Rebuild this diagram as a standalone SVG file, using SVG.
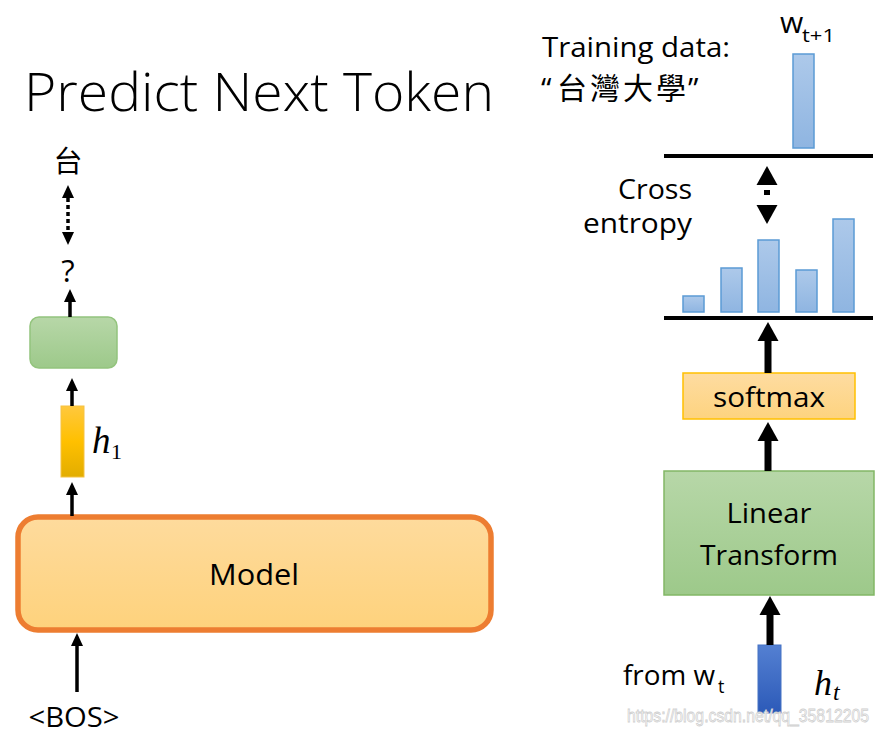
<svg xmlns="http://www.w3.org/2000/svg" width="879" height="734" viewBox="0 0 879 734">
<style>
.t{font-family:"Open Sans","Noto Sans","Liberation Sans",sans-serif;fill:#000}
.cjk{font-family:"Noto Sans CJK TC","Noto Sans CJK SC",sans-serif;fill:#000}
.m{font-family:"Liberation Serif","DejaVu Serif",serif;font-style:italic;fill:#000}
.thin{stroke:#000;stroke-width:3.5;fill:none}
.thick{stroke:#000;stroke-width:7;fill:none}
.bar{fill:url(#gBar);stroke:#5b9bd5;stroke-width:1.5}
</style>
<defs>
<marker id="hS" markerUnits="userSpaceOnUse" markerWidth="14" markerHeight="14" viewBox="0 -7 14 14" refX="0" refY="0" orient="auto-start-reverse"><path d="M0,-6 L13,0 L0,6 z" fill="#000"/></marker>
<marker id="hL" markerUnits="userSpaceOnUse" markerWidth="20" markerHeight="22" viewBox="0 -11 20 22" refX="0" refY="0" orient="auto-start-reverse"><path d="M0,-10.5 L19,0 L0,10.5 z" fill="#000"/></marker>
<linearGradient id="gGreen" x1="0" y1="0" x2="0" y2="1"><stop offset="0" stop-color="#b7d7a8"/><stop offset="1" stop-color="#9dc98a"/></linearGradient>
<linearGradient id="gH1" x1="0" y1="0" x2="0" y2="1"><stop offset="0" stop-color="#ffc83e"/><stop offset="0.5" stop-color="#ffc000"/><stop offset="1" stop-color="#e2ad00"/></linearGradient>
<linearGradient id="gModel" x1="0" y1="0" x2="0" y2="1"><stop offset="0" stop-color="#fedb9d"/><stop offset="1" stop-color="#fed27c"/></linearGradient>
<linearGradient id="gSoft" x1="0" y1="0" x2="0" y2="1"><stop offset="0" stop-color="#fedca1"/><stop offset="1" stop-color="#fdd37f"/></linearGradient>
<linearGradient id="gBar" x1="0" y1="0" x2="0" y2="1"><stop offset="0" stop-color="#adc9ea"/><stop offset="1" stop-color="#8fb5e1"/></linearGradient>
<linearGradient id="gBlue" x1="0" y1="0" x2="0" y2="1"><stop offset="0" stop-color="#5480d2"/><stop offset="1" stop-color="#2c5ab8"/></linearGradient>
</defs>
<rect width="879" height="734" fill="#fff"/>

<text class="t" x="24" y="111" font-size="54" font-weight="300" textLength="470" lengthAdjust="spacingAndGlyphs">Predict Next Token</text>

<g id="target-token"><text class="cjk" x="68" y="172" font-size="29" text-anchor="middle">台</text></g>
<g id="question"><text class="t" x="68" y="282" font-size="31" text-anchor="middle">?</text></g>
<g id="green-box"><rect x="30" y="317" width="87" height="51" rx="9" fill="url(#gGreen)" stroke="#93c47d" stroke-width="1.5"/></g>
<g id="h1">
<rect x="61" y="406" width="23" height="71" fill="url(#gH1)" stroke="#f5c242" stroke-width="1"/>
<text class="m" x="92" y="453" font-size="37">h</text>
<text x="111" y="459" font-size="22" font-family="Liberation Serif,serif">1</text>
</g>
<g id="model">
<rect x="18" y="517" width="473" height="113" rx="20" fill="url(#gModel)" stroke="#ed7d31" stroke-width="5.5"/>
<text class="t" x="254" y="585" font-size="29" text-anchor="middle" textLength="90" lengthAdjust="spacingAndGlyphs">Model</text>
</g>
<g id="bos"><text class="t" x="74" y="727" font-size="27" text-anchor="middle" textLength="91" lengthAdjust="spacingAndGlyphs">&lt;BOS&gt;</text></g>

<g id="training-data">
<text class="t" x="542" y="57" font-size="27" textLength="188" lengthAdjust="spacingAndGlyphs">Training data:</text>
<text x="541" y="99" font-size="30" class="cjk"><tspan font-family="Open Sans,sans-serif">“</tspan><tspan x="557" letter-spacing="3">台灣大學</tspan><tspan x="688" font-family="Open Sans,sans-serif">”</tspan></text>
</g>
<g id="target-dist">
<text class="t" x="780" y="33" font-size="30">w</text>
<text class="t" x="802" y="42" font-size="18" textLength="33" lengthAdjust="spacingAndGlyphs">t+1</text>
<rect class="bar" x="793" y="54" width="21" height="94"/>
<line x1="664" y1="156" x2="873" y2="156" stroke="#000" stroke-width="4"/>
</g>
<g id="cross-entropy-label">
<text class="t" x="692" y="199" font-size="28" text-anchor="end" textLength="74" lengthAdjust="spacingAndGlyphs">Cross</text>
<text class="t" x="692" y="233" font-size="28" text-anchor="end" textLength="109" lengthAdjust="spacingAndGlyphs">entropy</text>
</g>
<g id="pred-dist">
<rect class="bar" x="683" y="296" width="21" height="16"/>
<rect class="bar" x="721" y="268" width="21" height="44"/>
<rect class="bar" x="758" y="240" width="21" height="72"/>
<rect class="bar" x="796" y="270" width="21" height="42"/>
<rect class="bar" x="833" y="219" width="21" height="93"/>
<line x1="664" y1="318" x2="873" y2="318" stroke="#000" stroke-width="4"/>
</g>
<g id="softmax">
<rect x="683" y="373" width="172" height="46" fill="url(#gSoft)" stroke="#ffc000" stroke-width="1.5"/>
<text class="t" x="769" y="407" font-size="28" text-anchor="middle" textLength="112" lengthAdjust="spacingAndGlyphs">softmax</text>
</g>
<g id="linear">
<rect x="664" y="471" width="210" height="124" fill="url(#gGreen)" stroke="#82b765" stroke-width="1.5"/>
<text class="t" x="769" y="523" font-size="28" text-anchor="middle" textLength="85" lengthAdjust="spacingAndGlyphs">Linear</text>
<text class="t" x="769" y="565" font-size="28" text-anchor="middle" textLength="138" lengthAdjust="spacingAndGlyphs">Transform</text>
</g>
<g id="ht">
<rect x="758" y="645" width="23" height="68" fill="url(#gBlue)" stroke="#4472c4" stroke-width="1"/>
<text class="t" x="623" y="685" font-size="27" textLength="92" lengthAdjust="spacingAndGlyphs">from w</text>
<text class="t" x="718" y="693" font-size="18">t</text>
<text class="m" x="814" y="695" font-size="36">h</text>
<text class="m" x="833" y="700" font-size="24">t</text>
</g>

<g id="connectors">
<path class="thin" d="M72,516 V495" marker-end="url(#hS)"/>
<path class="thin" d="M72,406 V391" marker-end="url(#hS)"/>
<path class="thin" d="M70,317 V302" marker-end="url(#hS)"/>
<path class="thin" d="M77,692 V646" marker-end="url(#hS)"/>
<path class="thin" d="M68,198 V232" stroke-dasharray="4 3" marker-start="url(#hS)" marker-end="url(#hS)"/>
<path class="thick" d="M768,373 V341" marker-end="url(#hL)"/>
<path class="thick" d="M768,471 V441" marker-end="url(#hL)"/>
<path class="thick" d="M770,645 V615" marker-end="url(#hL)"/>
<path d="M767,185 V205" stroke="#000" stroke-width="6" fill="none" stroke-dasharray="0 5 5 10" marker-start="url(#hL)" marker-end="url(#hL)"/>
</g>

<text x="627" y="722" font-family="Liberation Sans,Arial,sans-serif" font-size="18" fill="#ffffff" stroke="#cfcfcf" stroke-width="0.8" textLength="242" lengthAdjust="spacingAndGlyphs">https://blog.csdn.net/qq_35812205</text>
</svg>
